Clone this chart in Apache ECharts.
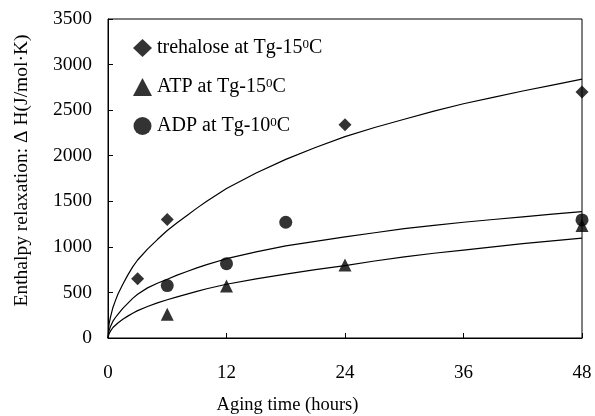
<!DOCTYPE html>
<html>
<head>
<meta charset="utf-8">
<script src="https://cdn.jsdelivr.net/npm/echarts@6/dist/echarts.min.js"></script>
<style>html,body{margin:0;padding:0;background:#fff;}#c{width:595px;height:416px;}</style>
</head>
<body>
<div id="c"></div>
<script>
// Measured points
var trehaloseData = [[3, 650], [6, 1300], [24, 2340], [48, 2700]];
var atpData = [[6, 260], [12, 570], [24, 800], [48, 1235]];
var adpData = [[6, 575], [12, 815], [18, 1270], [48, 1295]];

// Fitted curves
var trehaloseFit = [[0,0],[0.1,150],[0.25,230],[0.5,335],[0.75,410],[1,480],[1.5,590],[2,690],[2.5,780],[3,856],[4,975],[5,1080],[6,1180],[7,1265],[8,1345],[9,1425],[10,1500],[12,1640],[15,1810],[18,1960],[21,2090],[24,2210],[27,2310],[30,2400],[33,2490],[36,2570],[39,2640],[42,2710],[45,2775],[48,2840]];
var adpFit = [[0,0],[0.1,80],[0.25,125],[0.5,185],[0.75,225],[1,260],[1.5,325],[2,380],[2.5,435],[3,480],[4,550],[5,600],[6,645],[7,690],[8,730],[9,770],[10,805],[12,870],[15,945],[18,1010],[21,1060],[24,1110],[27,1155],[30,1200],[33,1235],[36,1270],[39,1300],[42,1330],[45,1360],[48,1386]];
var atpFit = [[0,0],[0.1,45],[0.25,75],[0.5,115],[0.75,140],[1,165],[1.5,205],[2,240],[2.5,272],[3,300],[4,345],[5,385],[6,420],[7,452],[8,482],[9,512],[10,540],[12,590],[15,648],[18,700],[21,750],[24,795],[27,845],[30,890],[33,930],[36,965],[39,1000],[42,1035],[45,1065],[48,1095]];

var seriesNames = ['trehalose at Tg-15\u2070C', 'ATP at Tg-15\u2070C', 'ADP at Tg-10\u2070C'];
var xTicks = [0, 12, 24, 36, 48];
var yTicks = [0, 500, 1000, 1500, 2000, 2500, 3000, 3500];

var FONT = 'Liberation Serif';
var chart = echarts.init(document.getElementById('c'), null, {renderer: 'canvas'});

function fitLine(d) {
  return {type: 'line', data: d, showSymbol: false, symbol: 'none', smooth: false,
    lineStyle: {color: '#000', width: 1.2, join: 'round'}, silent: true, z: 2};
}
function pts(name, d, sym, size) {
  return {type: 'scatter', name: name, data: d, symbol: sym, symbolSize: size,
    itemStyle: {color: '#000'}, z: 3};
}

chart.setOption({
  animation: false,
  backgroundColor: '#fff',
  grid: {left: 108, right: 13, top: 19, bottom: 78, outerBoundsMode: 'none', containLabel: false,
    show: true, borderColor: '#000', borderWidth: 1, backgroundColor: 'transparent'},
  legend: {
    orient: 'vertical', left: 133, top: 38, padding: 0, itemWidth: 19, itemHeight: 18, itemGap: 19,
    data: [
      {name: seriesNames[0], icon: 'diamond'},
      {name: seriesNames[1], icon: 'triangle'},
      {name: seriesNames[2], icon: 'circle'}
    ],
    formatter: function (n) {
      var p = n.split('\u2070');
      return '{a|' + p[0] + '}{s|0}{a|' + p[1] + '}';
    },
    textStyle: {
      color: '#000', fontFamily: FONT, fontSize: 20,
      rich: {
        a: {fontFamily: FONT, fontSize: 20, color: '#000', lineHeight: 20, verticalAlign: 'bottom'},
        s: {fontFamily: FONT, fontSize: 13, color: '#000', lineHeight: 20, verticalAlign: 'top', padding: [0, 0, 0, 0]}
      }
    },
    selectedMode: false
  },
  xAxis: {
    type: 'value', min: xTicks[0], max: xTicks[xTicks.length - 1], interval: 12,
    name: 'Aging time (hours)', nameLocation: 'middle', nameGap: 58,
    nameTextStyle: {fontFamily: FONT, fontSize: 18.5, color: '#000', padding: [0, 115, 0, 0]},
    axisLine: {show: true, lineStyle: {color: '#000', width: 1}},
    axisTick: {show: true, inside: true, length: 5, lineStyle: {color: '#000'}},
    axisLabel: {fontFamily: FONT, fontSize: 19, color: '#000', margin: 26},
    splitLine: {show: false}
  },
  yAxis: {
    type: 'value', min: yTicks[0], max: yTicks[yTicks.length - 1], interval: 500,
    name: 'Enthalpy relaxation: \u0394 H(J/mol\u00b7K)', nameLocation: 'middle', nameGap: 76, nameRotate: 90,
    nameTextStyle: {fontFamily: FONT, fontSize: 19.5, color: '#000', padding: [0, 0, 0, 16]},
    axisLine: {show: true, lineStyle: {color: '#000', width: 1}},
    axisTick: {show: true, inside: true, length: 5, lineStyle: {color: '#000'}},
    axisLabel: {fontFamily: FONT, fontSize: 19.5, color: '#000', margin: 16, formatter: function (v) { return String(v); }},
    splitLine: {show: false}
  },
  series: [
    fitLine(trehaloseFit), fitLine(adpFit), fitLine(atpFit),
    pts(seriesNames[0], trehaloseData, 'diamond', 13),
    pts(seriesNames[1], atpData, 'triangle', 13),
    pts(seriesNames[2], adpData, 'circle', 13)
  ]
});
</script>
</body>
</html>
